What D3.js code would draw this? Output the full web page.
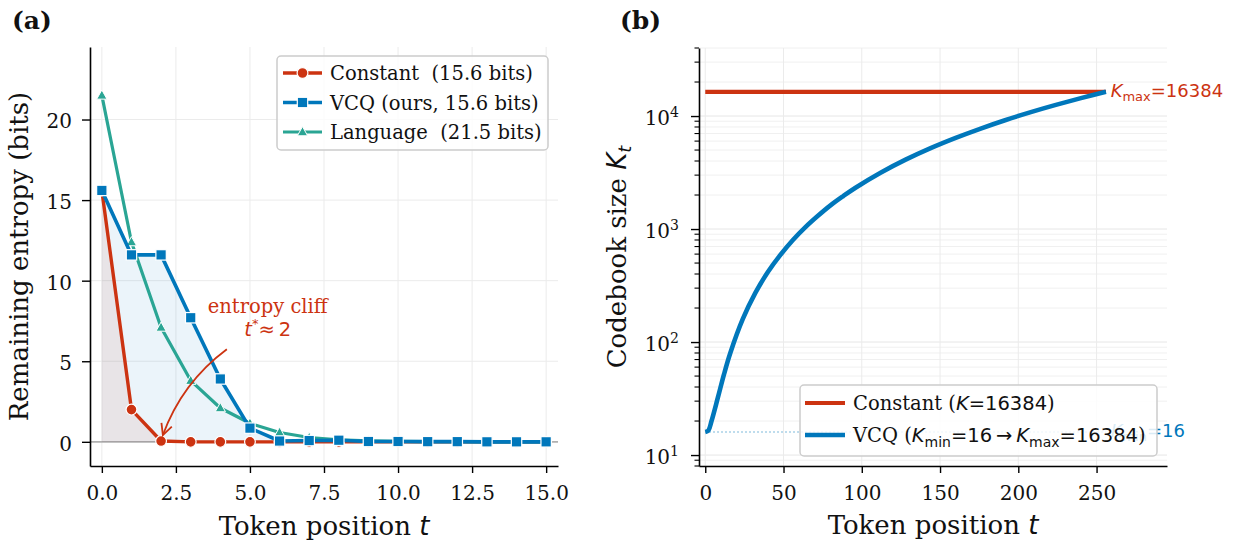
<!DOCTYPE html>
<html><head><meta charset="utf-8">
<script src="https://cdn.jsdelivr.net/npm/d3@7/dist/d3.min.js"></script>
<style>body{margin:0;background:#fff} text{white-space:pre}</style>
</head><body>
<svg id="c" width="1234" height="545" xmlns="http://www.w3.org/2000/svg"></svg>
<script>
// ---------------- DATA ----------------
// Panel (a): remaining entropy vs token position
const positionsA = [0,1,2,3,4,5,6,7,8,9,10,11,12,13,14,15];
const constantA  = [15.6,2.0,0.05,0,0,0,0,0,0,0,0,0,0,0,0,0];
const vcqA       = [15.6,11.6,11.6,7.7,3.9,0.85,0.05,0.08,0.1,0.02,0.02,0.01,0.01,0,0,0];
const languageA  = [21.5,12.4,7.1,3.8,2.1,1.15,0.58,0.27,0.12,0.06,0.03,0.015,0.01,0,0,0];
const xTicksA = [0,2.5,5,7.5,10,12.5,15];
const yTicksA = [0,5,10,15,20];
const legendLabelsA = ["Constant  (15.6 bits)","VCQ (ours, 15.6 bits)","Language  (21.5 bits)"];

// Panel (b): codebook size vs token position
const positionsB = [0,2,4,8,12,16,24,32,40,48,56,64,72,80,88,96,112,128,144,160,176,192,208,224,240,256];
const vcqB       = [16,16.5,20,32,52,80,160,272,416,590,800,1040,1310,1620,1950,2320,3150,4110,5200,6410,7750,9230,10830,12550,14400,16384];
const constantB  = [16384,16384];
const constantPosB = [0,256];
const kMin = 16, kMax = 16384;
const xTicksB = [0,50,100,150,200,250];
const yTicksB = [10,100,1000,10000];
const yTickExpB = ["1","2","3","4"];

// ---------------- STYLE ----------------
const SERIF = "'DejaVu Serif', serif";
const SANS = "'DejaVu Sans', sans-serif";
const RED = "#cc3311", BLUE = "#0077bb", TEAL = "#2aa594";
const GRID = "#ebebeb";

const svg = d3.select("#c");
svg.append("rect").attr("width",1234).attr("height",545).attr("fill","#fff");

function marker(g, type, x, y, color) {
  if (type === "circle") {
    g.append("circle").attr("cx",x).attr("cy",y).attr("r",5.4)
      .attr("fill",color).attr("stroke","#fff").attr("stroke-width",1.2);
  } else if (type === "square") {
    g.append("rect").attr("x",x-5.2).attr("y",y-5.2).attr("width",10.4).attr("height",10.4)
      .attr("fill",color).attr("stroke","#fff").attr("stroke-width",1.2);
  } else {
    const s = 5.4;
    g.append("path").attr("d",`M${x},${y-s}L${x+s*0.95},${y+s*0.7}L${x-s*0.95},${y+s*0.7}Z`)
      .attr("fill",color).attr("stroke","#fff").attr("stroke-width",1);
  }
}

// ================= PANEL A =================
const xA = d3.scaleLinear().domain([-0.4,15.4]).range([90,558]);
const yA = d3.scaleLinear().domain([-1.5,24.5]).range([466,47]);
const gA = svg.append("g");

gA.selectAll(".gvx").data(xTicksA).join("line")
  .attr("x1",d=>xA(d)).attr("x2",d=>xA(d)).attr("y1",yA.range()[1]).attr("y2",yA.range()[0])
  .attr("stroke",GRID).attr("stroke-width",1);
gA.selectAll(".gvy").data(yTicksA).join("line")
  .attr("x1",xA.range()[0]).attr("x2",xA.range()[1]).attr("y1",d=>yA(d)).attr("y2",d=>yA(d))
  .attr("stroke",GRID).attr("stroke-width",1);
gA.append("line").attr("x1",xA.range()[0]).attr("x2",xA.range()[1])
  .attr("y1",yA(0)).attr("y2",yA(0)).attr("stroke","#b0b0b0").attr("stroke-width",1.8);

const areaA = vals => d3.area().x((d,i)=>xA(positionsA[i])).y0(yA(0)).y1(d=>yA(d))(vals);
gA.append("path").attr("d",areaA(vcqA)).attr("fill",BLUE).attr("fill-opacity",0.08);
gA.append("path").attr("d",areaA(constantA)).attr("fill",RED).attr("fill-opacity",0.08);

const lineA = vals => d3.line().x((d,i)=>xA(positionsA[i])).y(d=>yA(d))(vals);
const seriesA = [
  {vals: constantA, color: RED, m: "circle", w: 3.4},
  {vals: languageA, color: TEAL, m: "triangle", w: 3.2},
  {vals: vcqA, color: BLUE, m: "square", w: 3.6}
];
seriesA.forEach(s => {
  const g = gA.append("g");
  g.append("path").attr("d",lineA(s.vals)).attr("fill","none").attr("stroke",s.color)
    .attr("stroke-width",s.w).attr("stroke-linejoin","round");
  s.vals.forEach((v,i)=> marker(g, s.m, xA(positionsA[i]), yA(v), s.color));
});

const axAx = gA.append("g").attr("transform",`translate(0,${yA.range()[0]})`)
  .call(d3.axisBottom(xA).tickValues(xTicksA).tickFormat(d3.format(".1f")).tickSize(7).tickSizeOuter(0).tickPadding(13));
const axAy = gA.append("g").attr("transform",`translate(${xA.range()[0]},0)`)
  .call(d3.axisLeft(yA).tickValues(yTicksA).tickFormat(d3.format("d")).tickSize(8).tickSizeOuter(0).tickPadding(10));
[axAx, axAy].forEach(ax => {
  ax.select(".domain").attr("stroke","#000").attr("stroke-width",1.6);
  ax.selectAll(".tick line").attr("stroke","#000").attr("stroke-width",1.4);
  ax.selectAll(".tick text").attr("font-family",SERIF).attr("font-size",20).attr("fill","#111");
});
axAy.selectAll(".tick text").attr("dy","0.42em");

gA.append("text").attr("x",(xA.range()[0]+xA.range()[1])/2).attr("y",535).attr("text-anchor","middle")
  .attr("font-family",SERIF).attr("font-size",26).attr("fill","#111")
  .call(t=>{t.append("tspan").text("Token position ");
            t.append("tspan").attr("font-family",SANS).attr("font-style","italic").text("t");});
gA.append("text").attr("transform",`translate(28,${(yA.range()[0]+yA.range()[1])/2}) rotate(-90)`)
  .attr("text-anchor","middle").attr("font-family",SERIF).attr("font-size",26).attr("fill","#111")
  .text("Remaining entropy (bits)");
gA.append("text").attr("x",12).attr("y",29).attr("font-family",SERIF).attr("font-weight","bold")
  .attr("font-size",25).attr("fill","#111").text("(a)");

// annotation
const annoText = {x: 5.6, y: 8.0};
gA.append("text").attr("x",xA(annoText.x)).attr("y",yA(annoText.y)).attr("text-anchor","middle")
  .attr("font-family",SERIF).attr("font-size",19.5).attr("fill",RED).text("entropy cliff");
gA.append("text").attr("x",xA(annoText.x)).attr("y",yA(annoText.y)+23).attr("text-anchor","middle")
  .attr("font-family",SANS).attr("font-size",19.5).attr("fill",RED)
  .call(t=>{t.append("tspan").attr("font-style","italic").text("t");
            t.append("tspan").attr("font-size",13).attr("dy",-8).text("*");
            t.append("tspan").attr("dy",8).text("\u2248\u20092");});
{
  const S = [xA(4.22), yA(5.75)], E = [xA(2.06), yA(0.42)];
  const dx = E[0]-S[0], dy = E[1]-S[1], f = -0.15;
  const C = [(S[0]+E[0])/2 + f*dy, (S[1]+E[1])/2 - f*dx];
  gA.append("path").attr("d",`M${S[0]},${S[1]}Q${C[0]},${C[1]} ${E[0]},${E[1]}`)
    .attr("fill","none").attr("stroke",RED).attr("stroke-width",1.8);
  const ang = Math.atan2(E[1]-C[1], E[0]-C[0]);
  const L = 11, W = 5.5;
  const bx = E[0]-L*Math.cos(ang), by = E[1]-L*Math.sin(ang);
  const px = -Math.sin(ang)*W, py = Math.cos(ang)*W;
  gA.append("path").attr("d",`M${bx+px},${by+py}L${E[0]},${E[1]}L${bx-px},${by-py}`)
    .attr("fill","none").attr("stroke",RED).attr("stroke-width",1.8);
}

// legend A
{
  const lg = gA.append("g");
  lg.append("rect").attr("x",277).attr("y",56).attr("width",271).attr("height",94).attr("rx",4)
    .attr("fill","#fff").attr("fill-opacity",0.8).attr("stroke","#cccccc").attr("stroke-width",1.5);
  const order = [seriesA[0], seriesA[2], seriesA[1]];
  order.forEach((s,i)=>{
    const y = 73 + i*29.5;
    lg.append("line").attr("x1",283).attr("x2",322).attr("y1",y).attr("y2",y)
      .attr("stroke",s.color).attr("stroke-width",s.w);
    marker(lg, s.m, 302.5, y, s.color);
    lg.append("text").attr("x",330).attr("y",y+7).attr("font-family",SERIF).attr("font-size",19.5)
      .attr("fill","#111").text(legendLabelsA[i]);
  });
}

// ================= PANEL B =================
const xB = d3.scaleLinear().domain([-4,295]).range([699,1167]);
const yB = d3.scaleLog().domain([8,40000]).range([466,48]);
const gB = svg.append("g");

const minorB = [];
[1,10,100,1000,10000].forEach(b => { for (let m=2;m<=9;m++){ const v=m*b; if (v>=8 && v<=40000) minorB.push(v);} });

gB.selectAll(".gmin").data(minorB).join("line")
  .attr("x1",xB.range()[0]).attr("x2",xB.range()[1]).attr("y1",d=>yB(d)).attr("y2",d=>yB(d))
  .attr("stroke","#f0f0f0").attr("stroke-width",1);
gB.selectAll(".gmaj").data(yTicksB).join("line")
  .attr("x1",xB.range()[0]).attr("x2",xB.range()[1]).attr("y1",d=>yB(d)).attr("y2",d=>yB(d))
  .attr("stroke","#e6e6e6").attr("stroke-width",1);
gB.selectAll(".gvx").data(xTicksB).join("line")
  .attr("x1",d=>xB(d)).attr("x2",d=>xB(d)).attr("y1",yB.range()[1]).attr("y2",yB.range()[0])
  .attr("stroke",GRID).attr("stroke-width",1);

gB.append("line").attr("x1",xB(0)).attr("x2",xB(256)).attr("y1",yB(kMin)).attr("y2",yB(kMin))
  .attr("stroke",BLUE).attr("stroke-opacity",0.45).attr("stroke-width",1.3).attr("stroke-dasharray","1.5,2.5");

gB.append("path").attr("d",d3.line().x((d,i)=>xB(constantPosB[i])).y(d=>yB(d))(constantB))
  .attr("fill","none").attr("stroke",RED).attr("stroke-width",4.2);
gB.append("path").attr("d",d3.line().curve(d3.curveCatmullRom.alpha(0.5)).x((d,i)=>xB(positionsB[i])).y(d=>yB(d))(vcqB))
  .attr("fill","none").attr("stroke",BLUE).attr("stroke-width",4.6);

function kLabel(g, sub, val, y, color) {
  g.append("text").attr("x",xB(259)).attr("y",y+5).attr("font-family",SANS).attr("font-size",18).attr("fill",color)
    .call(t=>{t.append("tspan").attr("font-style","italic").text("K");
              t.append("tspan").attr("font-size",13).attr("dy",4).text(sub);
              t.append("tspan").attr("dy",-4).text("=" + val);});
}
kLabel(gB, "max", kMax, yB(kMax), RED);
kLabel(gB, "min", kMin, yB(kMin), BLUE);

const axBx = gB.append("g").attr("transform",`translate(0,${yB.range()[0]})`)
  .call(d3.axisBottom(xB).tickValues(xTicksB).tickFormat(d3.format("d")).tickSize(7).tickSizeOuter(0).tickPadding(13));
const axBy = gB.append("g").attr("transform",`translate(${xB.range()[0]},0)`)
  .call(d3.axisLeft(yB).tickValues(yTicksB).tickFormat(()=>"").tickSize(8).tickSizeOuter(0).tickPadding(12));
[axBx, axBy].forEach(ax => {
  ax.select(".domain").attr("stroke","#000").attr("stroke-width",1.6);
  ax.selectAll(".tick line").attr("stroke","#000").attr("stroke-width",1.4);
  ax.selectAll(".tick text").attr("font-family",SERIF).attr("font-size",20).attr("fill","#111");
});
axBy.selectAll(".tick text").attr("dy","0.42em")
  .each(function(d,i){ const t=d3.select(this);
    t.append("tspan").text("10");
    t.append("tspan").attr("font-size",14).attr("dy",-8).text(yTickExpB[i]); });
gB.selectAll(".minort").data(minorB).join("line")
  .attr("x1",xB.range()[0]-4.5).attr("x2",xB.range()[0]).attr("y1",d=>yB(d)).attr("y2",d=>yB(d))
  .attr("stroke","#000").attr("stroke-width",1.1);

gB.append("text").attr("x",(xB.range()[0]+xB.range()[1])/2).attr("y",534).attr("text-anchor","middle")
  .attr("font-family",SERIF).attr("font-size",26).attr("fill","#111")
  .call(t=>{t.append("tspan").text("Token position ");
            t.append("tspan").attr("font-family",SANS).attr("font-style","italic").text("t");});
gB.append("text").attr("transform",`translate(626,${(yB.range()[0]+yB.range()[1])/2}) rotate(-90)`)
  .attr("text-anchor","middle").attr("font-family",SERIF).attr("font-size",26).attr("fill","#111")
  .call(t=>{t.append("tspan").text("Codebook size ");
            t.append("tspan").attr("font-family",SANS).attr("font-style","italic").text("K");
            t.append("tspan").attr("font-family",SANS).attr("font-style","italic").attr("font-size",18).attr("dy",5).text("t");});
gB.append("text").attr("x",620).attr("y",29).attr("font-family",SERIF).attr("font-weight","bold")
  .attr("font-size",25).attr("fill","#111").text("(b)");

// legend B (drawn over the K_min label, semi-opaque)
{
  const lg = gB.append("g");
  lg.append("rect").attr("x",800).attr("y",385).attr("width",357).attr("height",71).attr("rx",4)
    .attr("fill","#fff").attr("fill-opacity",0.85).attr("stroke","#cccccc").attr("stroke-width",1.5);
  lg.append("line").attr("x1",805).attr("x2",845).attr("y1",403).attr("y2",403).attr("stroke",RED).attr("stroke-width",4.2);
  lg.append("line").attr("x1",805).attr("x2",845).attr("y1",435).attr("y2",435).attr("stroke",BLUE).attr("stroke-width",4.6);
  lg.append("text").attr("x",853).attr("y",410).attr("font-family",SERIF).attr("font-size",19.5).attr("fill","#111")
    .call(t=>{t.append("tspan").text("Constant (");
      t.append("tspan").attr("font-family",SANS).attr("font-style","italic").text("K");
      t.append("tspan").attr("font-family",SANS).text("=" + kMax);
      t.append("tspan").text(")");});
  lg.append("text").attr("x",853).attr("y",442).attr("font-family",SERIF).attr("font-size",19.5).attr("fill","#111")
    .call(t=>{t.append("tspan").text("VCQ (");
      t.append("tspan").attr("font-family",SANS).attr("font-style","italic").text("K");
      t.append("tspan").attr("font-family",SANS).attr("font-size",14).attr("dy",5).text("min");
      t.append("tspan").attr("font-family",SANS).attr("dy",-5).text("=" + kMin + "\u2009\u2192\u2009");
      t.append("tspan").attr("font-family",SANS).attr("font-style","italic").text("K");
      t.append("tspan").attr("font-family",SANS).attr("font-size",14).attr("dy",5).text("max");
      t.append("tspan").attr("font-family",SANS).attr("dy",-5).text("=" + kMax);
      t.append("tspan").text(")");});
}
</script>
</body></html>
